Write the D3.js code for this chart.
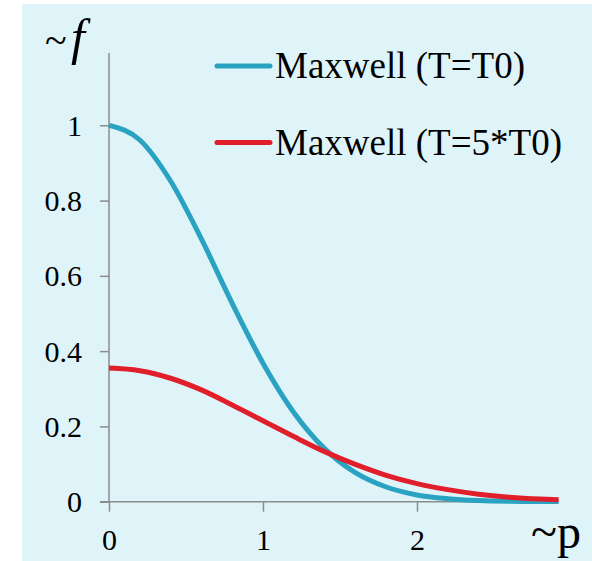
<!DOCTYPE html>
<html><head><meta charset="utf-8">
<script src="https://cdn.jsdelivr.net/npm/d3@7"></script>
<style>html,body{margin:0;padding:0;background:#fff} svg text{font-family:"Liberation Serif", serif;}</style>
</head><body>
<script>
const pValues = [0, 0.2, 0.4, 0.6, 0.8, 1.0, 1.2, 1.4, 1.6, 1.8, 2.0, 2.2, 2.4, 2.6, 2.8, 2.92];
const blueValues = [1.0, 0.961, 0.852, 0.698, 0.527, 0.368, 0.237, 0.141, 0.077, 0.039, 0.018, 0.008, 0.003, 0.001, 0.0004, 0.0002];
const redValues = [0.355, 0.348, 0.328, 0.297, 0.257, 0.215, 0.173, 0.133, 0.099, 0.070, 0.048, 0.032, 0.020, 0.012, 0.007, 0.005];
const seriesNames = ["Maxwell (T=T0)", "Maxwell (T=5*T0)"];
const xTicks = [0, 1, 2];
const yTicks = [0, 0.2, 0.4, 0.6, 0.8, 1];
const yTickLabels = ["0", "0.2", "0.4", "0.6", "0.8", "1"];

const W = 592, H = 561;
const svg = d3.select("body").append("svg").attr("width", W).attr("height", H);
svg.append("rect").attr("x", 22).attr("y", 4).attr("width", W - 22).attr("height", H - 4).attr("fill", "#dff4f9");

const x = d3.scaleLinear().domain([0, 2.916]).range([109, 558]);
const y = d3.scaleLinear().domain([0, 1]).range([501.7, 125.3]);
const font = "Liberation Serif";
const axisColor = "#8c8c8c";

// y axis
const yAxis = svg.append("g").attr("transform", "translate(109,0)")
  .call(d3.axisLeft(y).tickValues(yTicks).tickSize(9).tickFormat((d, i) => yTickLabels[i]));
yAxis.attr("font-family", font);
yAxis.select(".domain").remove();
yAxis.selectAll(".tick line").attr("stroke", axisColor).attr("stroke-width", 1.5);
yAxis.selectAll(".tick text").attr("font-size", 30).attr("fill", "#000")
  .attr("x", -27).attr("dy", "0.33em");
svg.append("line").attr("x1", 109).attr("x2", 109).attr("y1", 53).attr("y2", 501.7)
  .attr("stroke", axisColor).attr("stroke-width", 1.5);

// x axis
const xAxis = svg.append("g").attr("transform", "translate(0,501.7)")
  .call(d3.axisBottom(x).tickValues(xTicks).tickSize(10).tickFormat(d3.format("d")));
xAxis.attr("font-family", font);
xAxis.select(".domain").remove();
xAxis.selectAll(".tick line").attr("stroke", axisColor).attr("stroke-width", 1.5);
xAxis.selectAll(".tick text").attr("font-size", 30).attr("fill", "#000")
  .attr("y", 48).attr("dy", 0);
svg.append("line").attr("x1", 100).attr("x2", 558).attr("y1", 501.7).attr("y2", 501.7)
  .attr("stroke", axisColor).attr("stroke-width", 1.5);

// curves
const line = d3.line().x((d, i) => x(pValues[i])).y(d => y(d)).curve(d3.curveMonotoneX);
const colors = ["#2aa3c2", "#e01f2b"];
[blueValues, redValues].forEach((vals, k) => {
  svg.append("path").attr("d", line(vals)).attr("fill", "none")
    .attr("stroke", colors[k]).attr("stroke-width", 5).attr("stroke-linecap", "butt");
});

// legend
const legY = [66, 142.5];
seriesNames.forEach((name, k) => {
  svg.append("line").attr("x1", 217).attr("x2", 270).attr("y1", legY[k]).attr("y2", legY[k])
    .attr("stroke", colors[k]).attr("stroke-width", 5).attr("stroke-linecap", "round");
  svg.append("text").attr("x", 275).attr("y", legY[k] + 12)
    .attr("font-size", 37).attr("fill", "#000").text(name);
});

// axis titles
svg.append("text").attr("x", 45).attr("y", 54).attr("font-size", 40)
  .attr("fill", "#000").text("~");
svg.append("text").attr("x", 71).attr("y", 54).attr("font-size", 50).attr("font-style", "italic")
  .attr("fill", "#000").text("f");
svg.append("text").attr("x", 531).attr("y", 548).attr("font-size", 48)
  .attr("fill", "#000").text("~p");
</script>
</body></html>
